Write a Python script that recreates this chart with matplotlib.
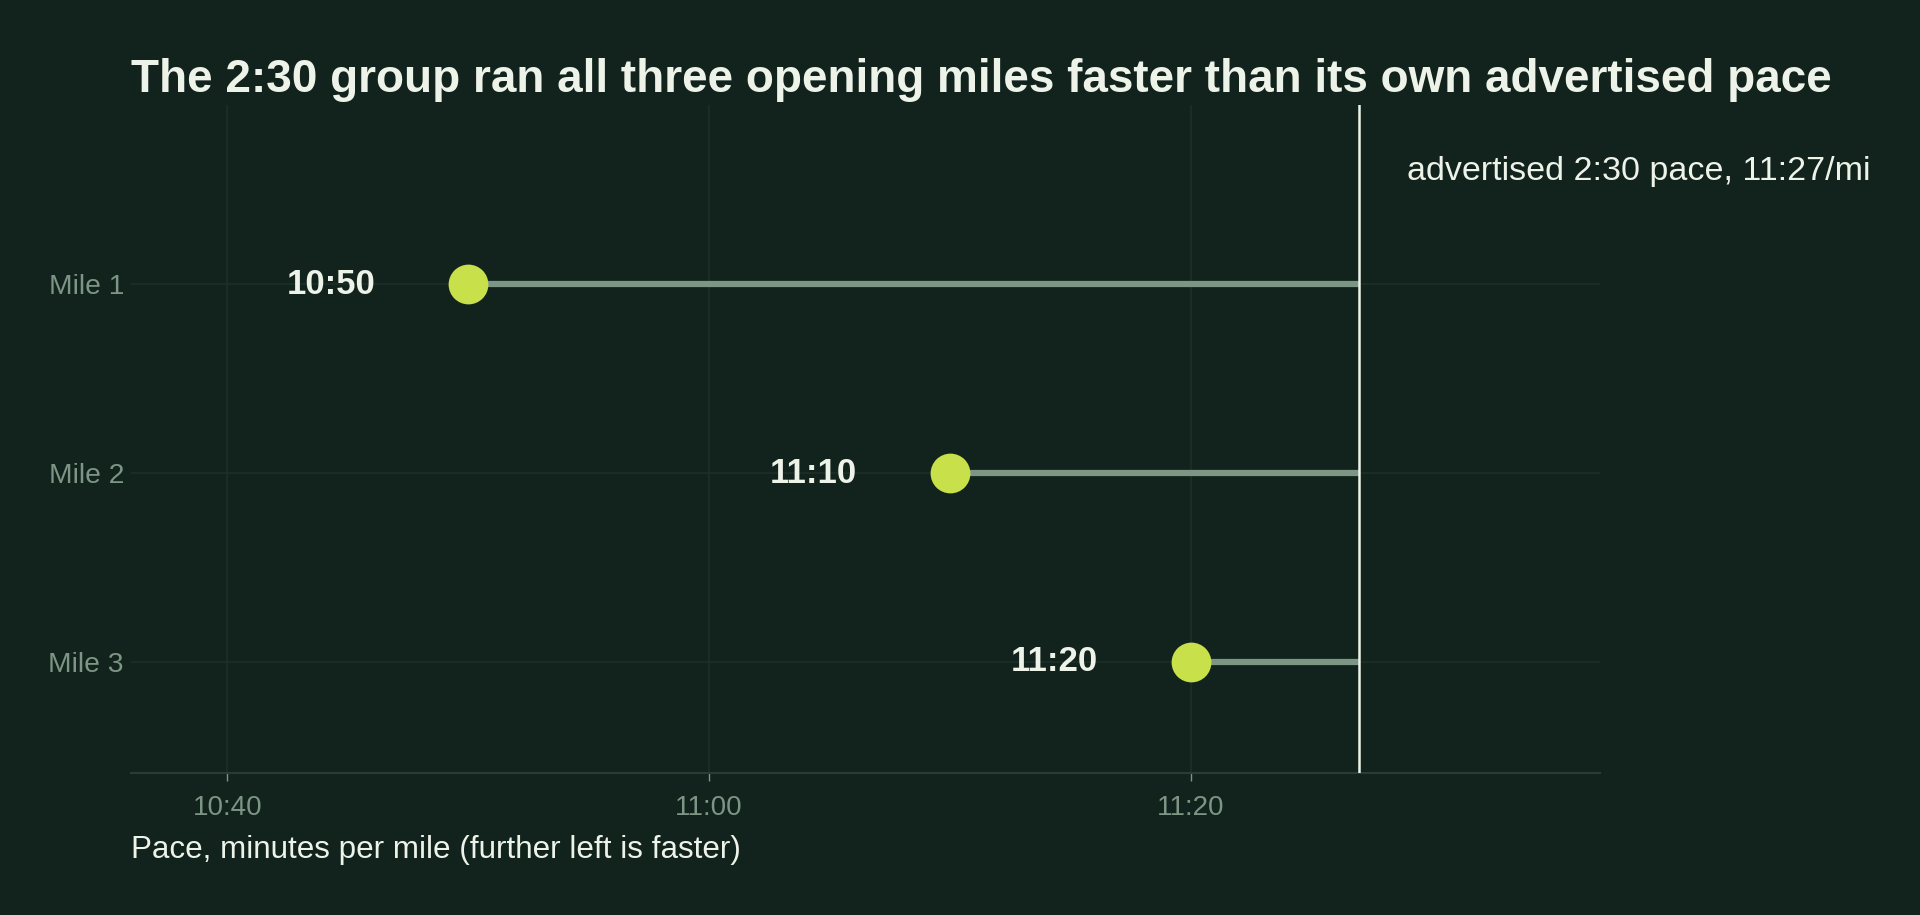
import matplotlib

matplotlib.use("Agg")
import matplotlib.pyplot as plt
from matplotlib.ticker import FuncFormatter

# data
miles = ["Mile 1", "Mile 2", "Mile 3"]
pace_labels = ["10:50", "11:10", "11:20"]
advertised_label = "11:27"
x_ticks = ["10:40", "11:00", "11:20"]

BG = "#11231c"
DOT = "#c8e04a"
STEM = "#7d9585"
GRID = "#1d3028"
TEXT = "#eef3ea"
MUTED = "#7d9585"


def to_sec(s):
    m, sec = s.split(":")
    return int(m) * 60 + int(sec)


def fmt(v, _pos=None):
    v = int(round(v))
    return f"{v // 60}:{v % 60:02d}"


paces = [to_sec(p) for p in pace_labels]
advertised = to_sec(advertised_label)
ys = list(range(len(miles)))

plt.rcParams["font.family"] = ["Liberation Sans", "DejaVu Sans"]

fig = plt.figure(figsize=(19.2, 9.15), dpi=100, facecolor=BG)
ax = fig.add_axes([0.0682, 0.1552, 0.7651, 0.7298])
ax.set_facecolor(BG)

for y, p in zip(ys, paces):
    ax.plot([p, advertised], [y, y], color=STEM, linewidth=4.5, solid_capstyle="butt", zorder=2)
ax.scatter(paces, ys, s=820, color=DOT, zorder=3, linewidths=0)
for y, p, lab in zip(ys, paces, pace_labels):
    ax.annotate(lab, (p, y), xytext=(-67, 0), textcoords="offset points",
                ha="right", va="center", fontsize=25, fontweight="bold", color=TEXT)

ax.axvline(advertised, color=TEXT, linewidth=1.8, zorder=4)
ax.text(advertised + 2, -0.6, f"advertised 2:30 pace, {advertised_label}/mi",
        ha="left", va="center", fontsize=24.5, color=TEXT, clip_on=False)

ax.set_xlim(636, 697)
ax.set_ylim(2.59, -0.95)
ax.set_xticks([to_sec(t) for t in x_ticks])
ax.xaxis.set_major_formatter(FuncFormatter(fmt))
ax.set_yticks(ys)
ax.set_yticklabels(miles)
ax.tick_params(axis="x", colors=MUTED, labelsize=20, length=6, width=1, pad=10)
ax.tick_params(axis="y", colors=MUTED, labelsize=20.3, length=0, pad=5)
ax.grid(True, color=GRID, linewidth=1.2)
ax.set_axisbelow(True)
for side in ["top", "right", "left"]:
    ax.spines[side].set_visible(False)
ax.spines["bottom"].set_color("#2a3d34")
ax.spines["bottom"].set_linewidth(1.5)

ax.set_xlabel("Pace, minutes per mile (further left is faster)", fontsize=22.6,
              color=TEXT, loc="left", labelpad=10)

fig.text(0.0682, 0.913,
         "The 2:30 group ran all three opening miles faster than its own advertised pace",
         ha="left", va="center", fontsize=33, fontweight="bold", color=TEXT)

fig.savefig("out.png", facecolor=BG)
